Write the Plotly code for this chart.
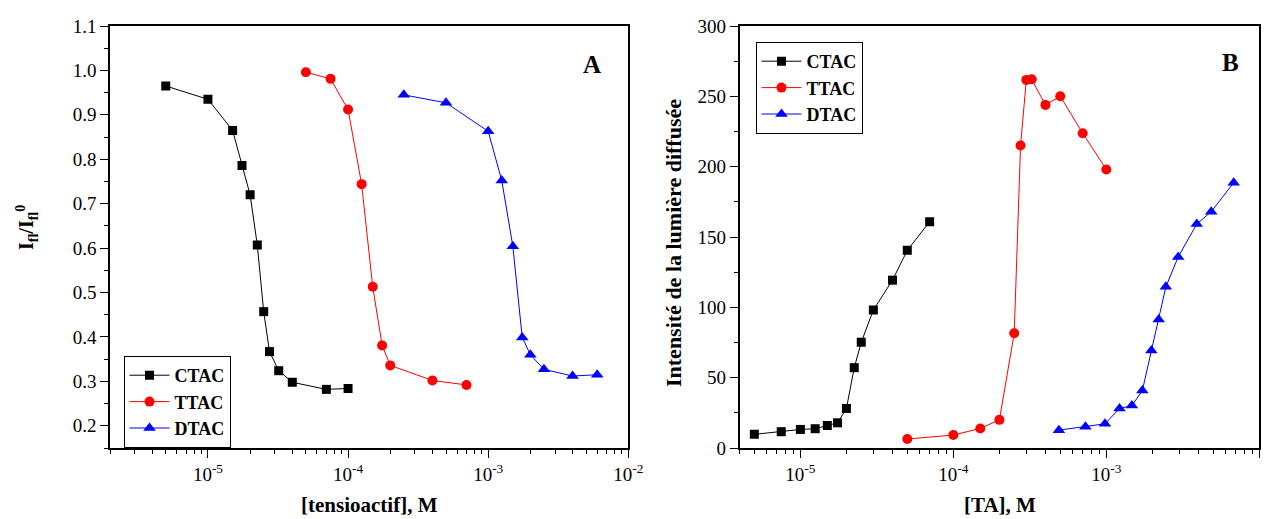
import math
import plotly.graph_objects as go

# ---------------- Data ----------------
series_names = ["CTAC", "TTAC", "DTAC"]

# Panel A : I_fl / I_fl^0 vs [tensioactif]
a_ctac_x = [5e-6, 1e-5, 1.5e-5, 1.75e-5, 2e-5, 2.25e-5, 2.5e-5, 2.75e-5, 3.2e-5, 4e-5, 7e-5, 1e-4]
a_ctac_y = [0.965, 0.935, 0.865, 0.786, 0.72, 0.607, 0.457, 0.367, 0.324, 0.298, 0.282, 0.284]
a_ttac_x = [5e-5, 7.5e-5, 1e-4, 1.25e-4, 1.5e-4, 1.75e-4, 2e-4, 4e-4, 7e-4]
a_ttac_y = [0.996, 0.981, 0.912, 0.744, 0.513, 0.381, 0.336, 0.302, 0.292]
a_dtac_x = [2.5e-4, 5e-4, 1e-3, 1.25e-3, 1.5e-3, 1.75e-3, 2e-3, 2.5e-3, 4e-3, 6e-3]
a_dtac_y = [0.945, 0.927, 0.863, 0.752, 0.604, 0.399, 0.360, 0.327, 0.312, 0.315]

# Panel B : Intensité de la lumière diffusée vs [TA]
b_ctac_x = [5e-6, 7.5e-6, 1e-5, 1.25e-5, 1.5e-5, 1.75e-5, 2e-5, 2.25e-5, 2.5e-5, 3e-5, 4e-5, 5e-5, 7e-5]
b_ctac_y = [9.7, 11.6, 13.2, 13.7, 16.0, 17.9, 28.1, 57.1, 75.2, 98.1, 119.3, 140.5, 160.9]
b_ttac_x = [5e-5, 1e-4, 1.5e-4, 2e-4, 2.5e-4, 2.75e-4, 3e-4, 3.25e-4, 4e-4, 5e-4, 7e-4, 1e-3]
b_ttac_y = [6.4, 9.2, 13.9, 20.0, 81.6, 215.1, 261.7, 262.1, 243.9, 250.1, 223.8, 198.0]
b_dtac_x = [4.9e-4, 7.3e-4, 9.8e-4, 1.22e-3, 1.47e-3, 1.72e-3, 1.97e-3, 2.2e-3, 2.45e-3, 2.95e-3, 3.9e-3, 4.85e-3, 6.8e-3]
b_dtac_y = [12.7, 15.1, 17.2, 28.1, 30.2, 40.8, 69.3, 91.3, 114.6, 135.8, 159.2, 168.0, 188.6]

major_x_vals = [1e-5, 1e-4, 1e-3, 1e-2]
major_x_text = ["10<sup>-5</sup>", "10<sup>-4</sup>", "10<sup>-3</sup>", "10<sup>-2</sup>"]
minor_x_vals = [m * 10.0 ** e for e in range(-6, -2) for m in range(2, 10)]

a_y_vals = [0.2, 0.3, 0.4, 0.5, 0.6, 0.7, 0.8, 0.9, 1.0, 1.1]
a_y_text = ["0.2", "0.3", "0.4", "0.5", "0.6", "0.7", "0.8", "0.9", "1.0", "1.1"]
b_y_vals = [0, 50, 100, 150, 200, 250, 300]

# ---------------- Styles ----------------
colors = ["#000000", "#FF0000", "#0000FF"]
symbols = ["square", "circle", "triangle-up"]
sizes = [9, 10, 11]
FONT = "Liberation Serif"

# the page body has an 8 px margin: figure is placed at (8, 8) in the window
OFF = 8
W, H = 1273 - OFF, 519 - OFF

fig = go.Figure()

panelA = [(a_ctac_x, a_ctac_y), (a_ttac_x, a_ttac_y), (a_dtac_x, a_dtac_y)]
panelB = [(b_ctac_x, b_ctac_y), (b_ttac_x, b_ttac_y), (b_dtac_x, b_dtac_y)]

for i, (xs, ys) in enumerate(panelA):
    fig.add_trace(go.Scatter(
        x=xs, y=ys, mode="lines+markers", name=series_names[i],
        line=dict(color=colors[i], width=1),
        marker=dict(symbol=symbols[i], size=sizes[i], color=colors[i]),
        xaxis="x", yaxis="y", legend="legend"))

for i, (xs, ys) in enumerate(panelB):
    fig.add_trace(go.Scatter(
        x=xs, y=ys, mode="lines+markers", name=series_names[i],
        line=dict(color=colors[i], width=1),
        marker=dict(symbol=symbols[i], size=sizes[i], color=colors[i]),
        xaxis="x2", yaxis="y2", legend="legend2"))


def px_x(p):
    return (p - OFF) / W


def px_y(p):
    return 1 - (p - OFF) / H


A_L, A_R = 110, 628.3
B_L, B_R = 739.5, 1259.3
TOP, BOT = 26, 448

tickfont = dict(family=FONT, size=19, color="black")
common_x = dict(
    type="log", showgrid=False, zeroline=False, showline=True, linecolor="black",
    linewidth=1.5, mirror=True, ticks="outside", ticklen=8, tickwidth=1.2,
    tickcolor="black", tickmode="array", tickvals=major_x_vals, ticktext=major_x_text,
    tickfont=tickfont, automargin=False,
    minor=dict(ticks="outside", ticklen=4, tickwidth=1, tickcolor="black",
               tickmode="array", tickvals=minor_x_vals, showgrid=False),
)
common_y = dict(
    showgrid=False, zeroline=False, showline=True, linecolor="black",
    linewidth=1.5, mirror=True, ticks="outside", ticklen=8, tickwidth=1.2,
    tickcolor="black", tickfont=tickfont, automargin=False,
)

legend_font = dict(family=FONT, size=18, color="black", weight="bold")

fig.update_layout(
    width=W, height=H,
    margin=dict(l=0, r=0, t=0, b=0),
    paper_bgcolor="white", plot_bgcolor="white",
    font=dict(family=FONT, color="black"),
    xaxis=dict(domain=[px_x(A_L), px_x(A_R)], range=[math.log10(2e-6), -2],
               anchor="y", **common_x),
    yaxis=dict(domain=[px_y(BOT), px_y(TOP)], range=[0.15, 1.1], anchor="x",
               tickmode="array", tickvals=a_y_vals, ticktext=a_y_text,
               minor=dict(ticks="outside", ticklen=4, tickwidth=1, tickcolor="black",
                          dtick=0.05, tick0=0.15, showgrid=False),
               **common_y),
    xaxis2=dict(domain=[px_x(B_L), px_x(B_R)], range=[math.log10(4e-6), -2],
                anchor="y2", **common_x),
    yaxis2=dict(domain=[px_y(BOT), px_y(TOP)], range=[0, 300], anchor="x2",
                tickmode="array", tickvals=b_y_vals,
                minor=dict(ticks="outside", ticklen=4, tickwidth=1, tickcolor="black",
                           dtick=25, tick0=0, showgrid=False),
                **common_y),
    legend=dict(x=px_x(123.5), y=px_y(356), xanchor="left", yanchor="top",
                bordercolor="black", borderwidth=1, bgcolor="white",
                font=legend_font, itemwidth=40, tracegroupgap=0),
    legend2=dict(x=px_x(755.5), y=px_y(42), xanchor="left", yanchor="top",
                 bordercolor="black", borderwidth=1, bgcolor="white",
                 font=legend_font, itemwidth=40, tracegroupgap=0),
    showlegend=True,
)

ann_font = dict(family=FONT, color="black")
ann_common = dict(xref="paper", yref="paper", showarrow=False,
                  xanchor="center", yanchor="middle")
annotations = [
    dict(text="<b>A</b>", x=px_x(592), y=px_y(65),
         font=dict(size=25, **ann_font), **ann_common),
    dict(text="<b>B</b>", x=px_x(1230), y=px_y(62),
         font=dict(size=25, **ann_font), **ann_common),
    dict(text="<b>[tensioactif], M</b>", x=px_x((A_L + A_R) / 2), y=px_y(504.5),
         font=dict(size=21, **ann_font), **ann_common),
    dict(text="<b>[TA], M</b>", x=px_x(1000), y=px_y(504.5),
         font=dict(size=21, **ann_font), **ann_common),
    dict(text="<b>I<sub>fl</sub>/I<sub>fl</sub><sup>0</sup></b>", x=px_x(27), y=px_y(228),
         textangle=-90, font=dict(size=20, **ann_font), **ann_common),
    dict(text="<b>Intensité de la lumière diffusée</b>", x=px_x(673), y=px_y(243),
         textangle=-90, font=dict(size=22, **ann_font), **ann_common),
]
fig.update_layout(annotations=annotations)

fig.write_html("out.html")
